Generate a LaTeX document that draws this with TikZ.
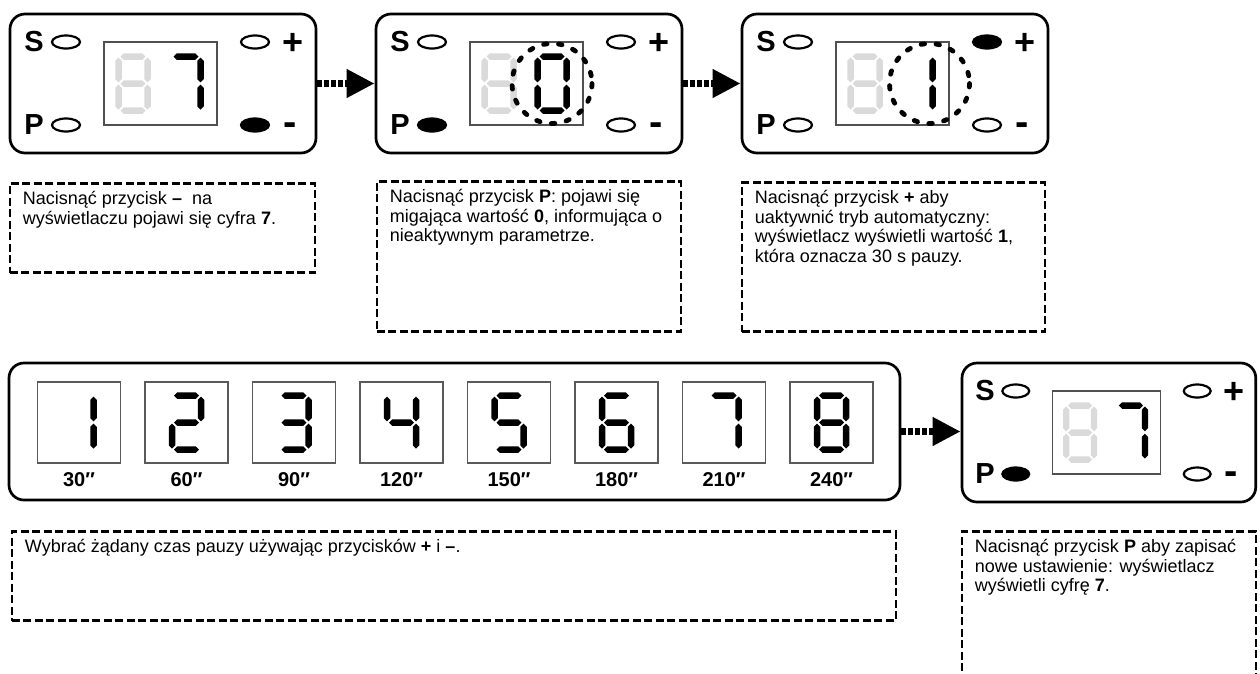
\documentclass[tikz,border=0pt]{standalone}
\usepackage{fontspec}
\setmainfont{Liberation Sans}
\usetikzlibrary{arrows.meta,positioning,calc}

\definecolor{segoff}{HTML}{DADADA}
\definecolor{winline}{HTML}{505050}
\definecolor{cellline}{HTML}{5A5A5A}

\newcommand\notefont{\fontsize{18}{19.5}\selectfont}
\newcommand\keyfont{\fontsize{29}{29}\selectfont\bfseries}

% segments of a seven-segment digit (local y points up)
\newcommand\hseg[2]{(#1-12.5,#2) -- (#1-9.25,#2+3.25) -- (#1+9.25,#2+3.25) -- (#1+12.5,#2) -- (#1+9.25,#2-3.25) -- (#1-9.25,#2-3.25) -- cycle}
\newcommand\vseg[2]{(#1,#2-12.4) -- (#1+3.25,#2-9.15) -- (#1+3.25,#2+9.15) -- (#1,#2+12.4) -- (#1-3.25,#2+9.15) -- (#1-3.25,#2-9.15) -- cycle}
\newcommand\sega{\hseg{0}{27}}
\newcommand\segb{\vseg{14.5}{13.6}}
\newcommand\segc{\vseg{14.5}{-13.6}}
\newcommand\segd{\hseg{0}{-27}}
\newcommand\sege{\vseg{-14.5}{-13.6}}
\newcommand\segf{\vseg{-14.5}{13.6}}
\newcommand\segg{\hseg{0}{0}}

\newcommand\segdigit[4]{%
  \begin{scope}[shift={(#1,#2)},yscale=-1]
    \edef\seglist{#3}%
    \foreach \s in \seglist {%
      \edef\segcmd{\noexpand\fill[#4] \csname seg\s\endcsname;}\segcmd}
  \end{scope}}

% control panel: name, left, top, S, P, +, - fill, lit segments
\newcommand\pxs{1}
\newcommand\dpanel[8]{%
  \begin{scope}[shift={(#2,#3)},xscale=\pxs]
    \node[panel,minimum width={306*\pxs}] (#1) at (153,69.5) {};
    \node[window,minimum width={113*\pxs}] (#1w) at (150.5,69.5) {};
    \segdigit{123}{69.5}{a,b,c,d,e,f,g}{segoff}
    \segdigit{176}{69.5}{#8}{black}
    \node[keylbl] (#1s) at (24,28) {S};
    \node[keylbl] (#1p) at (24,111) {P};
    \node[keylbl,font=\fontsize{36}{36}\selectfont\bfseries] (#1plus) at (283,30) {+};
    \node[keylbl,font=\fontsize{40}{40}\selectfont\bfseries] (#1minus) at (280,115.5) {-};
    \draw[btn,fill=#4] (56,28) ellipse [x radius=14,y radius=6.5];
    \draw[btn,fill=#5] (56,111) ellipse [x radius=14,y radius=6.5];
    \draw[btn,fill=#6] (245,28) ellipse [x radius=14,y radius=6.5];
    \draw[btn,fill=#7] (245,111) ellipse [x radius=14,y radius=6.5];
  \end{scope}}

\tikzset{
  panel/.style={draw,line width=2.7pt,rounded corners=15pt,minimum height=139pt,inner sep=0pt},
  window/.style={draw=winline,line width=1.3pt,minimum height=83pt,inner sep=0pt},
  cell/.style={draw=cellline,line width=1.5pt,minimum width=83pt,minimum height=81pt,inner sep=0pt},
  keylbl/.style={font=\keyfont,inner sep=0pt},
  btn/.style={draw,line width=2.2pt},
  blink/.style={line width=4.8pt,dash pattern=on 3.5pt off 11.5pt,line cap=round},
  steparrow/.style={line width=7pt,dash pattern=on 5pt off 2pt,-{Triangle[length=28pt,width=27pt]}},
  note/.style={draw,line width=2.6pt,dash pattern=on 8pt off 3.5pt,inner xsep=13pt,inner ysep=8pt,align=left,font=\notefont},
  seclbl/.style={font=\fontsize{20}{20}\selectfont\bfseries,inner sep=0pt},
}

\begin{document}
\begin{tikzpicture}[x=1pt,y=-1pt]
  \useasboundingbox (0,0) rectangle (1260,673);

  % top row
  \dpanel{p1}{10}{14}{white}{white}{white}{black}{a,b,c}
  \dpanel{p2}{376}{14}{white}{black}{white}{white}{a,b,c,d,e,f}
  \dpanel{p3}{742}{14}{white}{white}{black}{white}{b,c}
  \draw[blink] ($(p2w.center)+(25.5,0)$) circle [radius=40];
  \draw[blink] ($(p3w.center)+(37,0)$) circle [radius=40];
  \draw[steparrow] (p1.east) -- (p2.west);
  \draw[steparrow] (p2.east) -- (p3.west);

  \node[note,below=28pt of p1.south west,anchor=north west] (n1) {\parbox[t][73pt][t]{279pt}{\raggedright
    Nacisnąć przycisk \textbf{–}\ \ na\\ wyświetlaczu pojawi się cyfra \textbf{7}.}};
  \node[note,below=26pt of p2.south west,anchor=north west,xshift=1pt] (n2) {\parbox[t][134pt][t]{278pt}{\raggedright
    Nacisnąć przycisk \textbf{P}: pojawi się\\ migająca wartość \textbf{0}, informująca o\\ nieaktywnym parametrze.}};
  \node[note,below=27pt of p3.south west,anchor=north west] (n3) {\parbox[t][133pt][t]{277pt}{\raggedright
    Nacisnąć przycisk \textbf{+} aby\\ uaktywnić tryb automatyczny:\\ wyświetlacz wyświetli wartość \textbf{1},\\ która oznacza 30 s pauzy.}};

  % pause times
  \node[panel,minimum width=891pt,minimum height=137pt] (row) at (454.5,431.5) {};
  \foreach \segs/\secs [count=\i from 0] in {{b,c}/30,{a,b,g,e,d}/60,{a,b,g,c,d}/90,{f,g,b,c}/120,
      {a,f,g,c,d}/150,{a,f,g,e,c,d}/180,{a,b,c}/210,{a,b,c,d,e,f,g}/240} {
    \node[cell] (c\i) at (79+107.5*\i,422.5) {};
    \segdigit{79+107.5*\i}{422.5}{\segs}{black}
    \node[seclbl,below=9pt of c\i] (t\i) {\secs″};
  }
  \renewcommand\pxs{0.96}
  \dpanel{p4}{962}{363}{white}{black}{white}{white}{a,b,c}
  \draw[steparrow] (row.east) -- (row.east -| p4.west);

  \node[note,below=29pt of row.south west,anchor=north west,xshift=3pt] (n4) {\parbox[t][73pt][t]{858pt}{\raggedright
    Wybrać żądany czas pauzy używając przycisków \textbf{+} i \textbf{–}.}};
  \node[note,below=27pt of p4.south west,anchor=north west] (n5) {\parbox[t][150pt][t]{268pt}{\raggedright
    Nacisnąć przycisk \textbf{P} aby zapisać\\ nowe ustawienie: wyświetlacz\\ wyświetli cyfrę \textbf{7}.}};
\end{tikzpicture}
\end{document}
